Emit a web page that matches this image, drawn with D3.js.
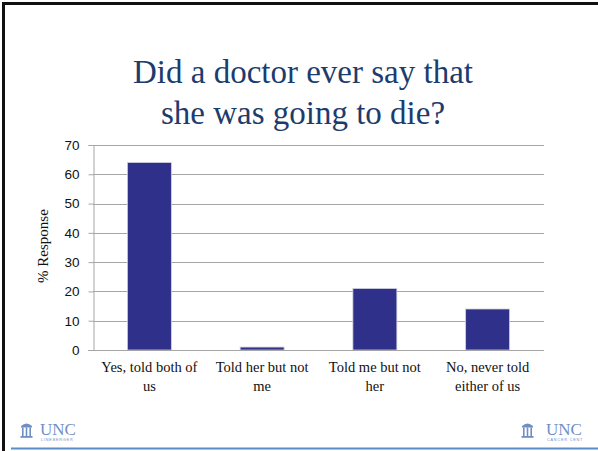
<!DOCTYPE html>
<html><head><meta charset="utf-8">
<script src="https://cdn.jsdelivr.net/npm/d3@7"></script>
<style>body{margin:0;background:#fff}svg{display:block}</style>
</head><body>
<script>
const titleLines = ["Did a doctor ever say that", "she was going to die?"];
const categories = [["Yes, told both of", "us"], ["Told her but not", "me"], ["Told me but not", "her"], ["No, never told", "either of us"]];
const values = [64, 1, 21, 14];
const yTicks = [0, 10, 20, 30, 40, 50, 60, 70];
const yLabel = "% Response";

const SERIF = "'Liberation Serif', 'Times New Roman', serif";
const SANS = "'Liberation Sans', Arial, sans-serif";
const W = 598, H = 451;
const svg = d3.select("body").append("svg").attr("width", W).attr("height", H);
svg.append("rect").attr("width", W).attr("height", H).attr("fill", "#fff");

// slide frame
svg.append("line").attr("x1", 2).attr("x2", W).attr("y1", 3.5).attr("y2", 3.5).attr("stroke", "#111").attr("stroke-width", 3);
svg.append("line").attr("x1", 3.5).attr("x2", 3.5).attr("y1", 2).attr("y2", H).attr("stroke", "#111").attr("stroke-width", 3);
svg.append("line").attr("x1", 11).attr("x2", W).attr("y1", 448.5).attr("y2", 448.5).attr("stroke", "#5b8cc8").attr("stroke-width", 2);

// title
svg.append("g").selectAll("text").data(titleLines).join("text")
  .attr("x", 303).attr("y", (d, i) => 83 + i * 41)
  .attr("text-anchor", "middle")
  .style("font-family", SERIF)
  .attr("font-size", 33).attr("fill", "#1d3c6e")
  .text(d => d);

const m = {l: 93, r: 544, t: 145, b: 350};
const x = d3.scaleBand().domain(d3.range(categories.length)).range([m.l, m.r]).paddingInner(0.61).paddingOuter(0.305);
const y = d3.scaleLinear().domain([0, 70]).range([m.b, m.t]);

// gridlines
svg.append("g").selectAll("line").data(yTicks.filter(d => d > 0)).join("line")
  .attr("x1", m.l).attr("x2", m.r).attr("y1", d => Math.round(y(d)) + 0.5).attr("y2", d => Math.round(y(d)) + 0.5)
  .attr("stroke", "#a6a6a6").attr("stroke-width", 1);

// y axis
const yAxis = svg.append("g").attr("transform", `translate(${m.l + 0.5},0)`)
  .call(d3.axisLeft(y).tickValues(yTicks).tickSize(5).tickPadding(9));
yAxis.select(".domain").attr("stroke", "#a6a6a6");
yAxis.selectAll(".tick line").attr("stroke", "#a6a6a6");
yAxis.selectAll(".tick text").style("font-family", SANS).attr("font-size", 13.5).attr("fill", "#111");

// bars
svg.append("g").selectAll("rect").data(values).join("rect")
  .attr("x", (d, i) => x(i)).attr("width", x.bandwidth())
  .attr("y", d => y(d)).attr("height", d => y(0) - y(d))
  .attr("fill", "#2e3089").attr("stroke", "#d0d0dc").attr("stroke-width", 0.8);

// baseline
svg.append("line").attr("x1", m.l - 5).attr("x2", m.r).attr("y1", m.b + 0.5).attr("y2", m.b + 0.5).attr("stroke", "#a6a6a6");

// x labels
const xl = svg.append("g").selectAll("text").data(categories).join("text")
  .attr("text-anchor", "middle")
  .style("font-family", SERIF)
  .attr("font-size", 14.5).attr("fill", "#111");
xl.selectAll("tspan").data((d, i) => d.map(t => ({t, i}))).join("tspan")
  .attr("x", d => x(d.i) + x.bandwidth() / 2)
  .attr("y", (d, j) => 372 + j * 19)
  .text(d => d.t);

// y label
svg.append("text").attr("transform", "translate(48,246) rotate(-90)")
  .attr("text-anchor", "middle")
  .style("font-family", SERIF)
  .attr("font-size", 15).attr("fill", "#111").text(yLabel);

// logos
function logo(x0, tx, sub) {
  const g = svg.append("g").attr("transform", `translate(${x0},0)`);
  const c = "#6f8fc4";
  g.append("path").attr("d", "M0,426 Q5.5,421 11,426 Z").attr("fill", c);
  g.append("rect").attr("x", 0).attr("y", 426).attr("width", 11).attr("height", 1.5).attr("fill", c);
  [1, 4.7, 8.4].forEach(px => g.append("rect").attr("x", px).attr("y", 427.5).attr("width", 1.6).attr("height", 8.5).attr("fill", c));
  g.append("rect").attr("x", -0.5).attr("y", 436).attr("width", 12).attr("height", 1.8).attr("fill", c);
  g.append("text").attr("x", tx).attr("y", 434.5).style("font-family", SERIF).attr("font-size", 17).attr("fill", c).text("UNC");
  g.append("text").attr("x", tx + 1).attr("y", 440.5).style("font-family", SANS).attr("font-size", 3.8).attr("letter-spacing", 0.8).attr("fill", c).text(sub);
}
logo(21, 19, "LINEBERGER");
logo(522, 24, "CANCER CENT");
</script>
</body></html>
